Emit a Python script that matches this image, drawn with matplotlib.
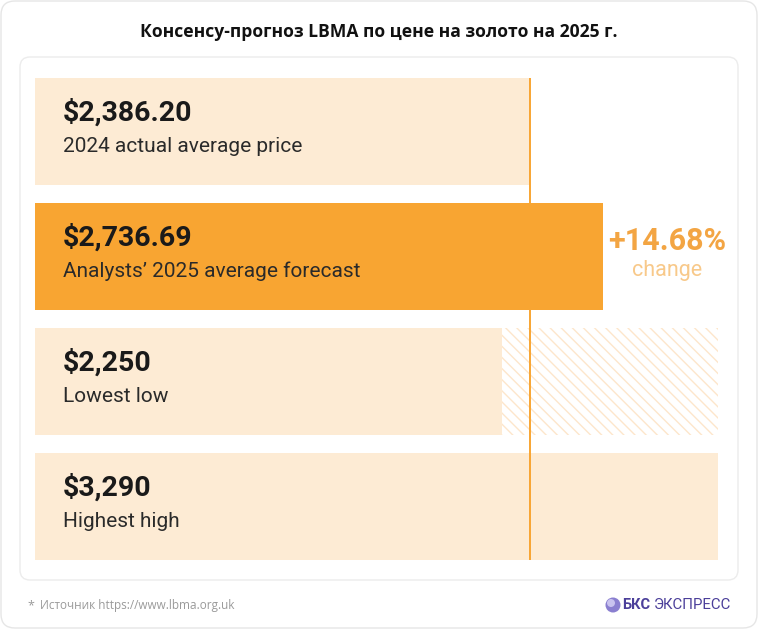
import matplotlib.pyplot as plt
from matplotlib.patches import FancyBboxPatch, Circle

# donnees
labels = ["2024 actual average price", "Analysts’ 2025 average forecast", "Lowest low", "Highest high"]
values = [2386.20, 2736.69, 2250, 3290]
value_texts = ["$2,386.20", "$2,736.69", "$2,250", "$3,290"]
change_text = "+14.68%"
title = "Консенсу-прогноз LBMA по цене на золото на 2025 г."
source = "Источник https://www.lbma.org.uk"

light = "#fdebd4"
orange = "#f8a532"
bar_colors = [light, orange, light, light]

fig = plt.figure(figsize=(7.58, 6.3), dpi=100)

# fond : cartes arrondies
bg = fig.add_axes([0, 0, 1, 1])
bg.set_xlim(0, 758)
bg.set_ylim(630, 0)
bg.axis("off")
bg.add_patch(FancyBboxPatch((1, 1), 756, 627, boxstyle="round,pad=0,rounding_size=14",
                            fc="white", ec="#e6e6e6", lw=1))
bg.add_patch(FancyBboxPatch((20, 57), 718, 523, boxstyle="round,pad=0,rounding_size=10",
                            fc="white", ec="#ececec", lw=1))
bg.text(379, 32, title, ha="center", va="center", fontsize=12.6, fontweight="bold",
        family="Open Sans", color="#111111")
bg.text(27, 606, "*", ha="left", va="center", fontsize=9, color="#9a9a9a", family="Open Sans")
bg.text(40, 606, source, ha="left", va="center", fontsize=8.5, color="#9a9a9a", family="Open Sans")
bg.add_patch(Circle((613, 605), 7.5, fc="#8a7fd0", ec="none"))
bg.add_patch(Circle((611, 603), 4, fc="#c9c3ef", ec="none"))
bg.text(622, 605, "БКС", ha="left", va="center", fontsize=10.5, fontweight="bold",
        color="#4b3f9a", family="Roboto")
bg.text(654, 605, "ЭКСПРЕСС", ha="left", va="center", fontsize=10.8,
        color="#4b3f9a", family="Roboto")

# graphique
ax = fig.add_axes([35 / 758, 70 / 630, 683 / 758, 482 / 630])
ax.set_xlim(0, 3290)
ax.set_ylim(3.428, -0.428)
ax.axis("off")

y = range(len(values))
ax.barh(y, values, height=0.856, color=bar_colors, zorder=1)
# zone hachuree entre le plus bas et le plus haut
ax.barh(2, values[3] - values[2], left=values[2], height=0.856, color="none",
        edgecolor="#fde6cb", hatch="\\\\\\", linewidth=0, zorder=1)
ax.axvline(values[0], color=orange, lw=1.4, zorder=2)

for i in y:
    ax.annotate(value_texts[i], xy=(0, i), xytext=(28, 19), textcoords="offset pixels",
                ha="left", va="center", fontsize=20.5, fontweight="bold",
                family="Roboto", color="#1a1a1a", zorder=3)
    ax.annotate(labels[i], xy=(0, i), xytext=(28, -15), textcoords="offset pixels",
                ha="left", va="center", fontsize=15, family="Roboto", color="#2a2a2a", zorder=3)

ax.annotate(change_text, xy=(values[1], 1), xytext=(64, 15), textcoords="offset pixels",
            ha="center", va="center", fontsize=22, fontweight="bold", family="Roboto", color="#f3a543")
ax.annotate("change", xy=(values[1], 1), xytext=(64, -14), textcoords="offset pixels",
            ha="center", va="center", fontsize=15.5, family="Roboto", color="#f8c98a")

fig.savefig("out.png", dpi=100)
